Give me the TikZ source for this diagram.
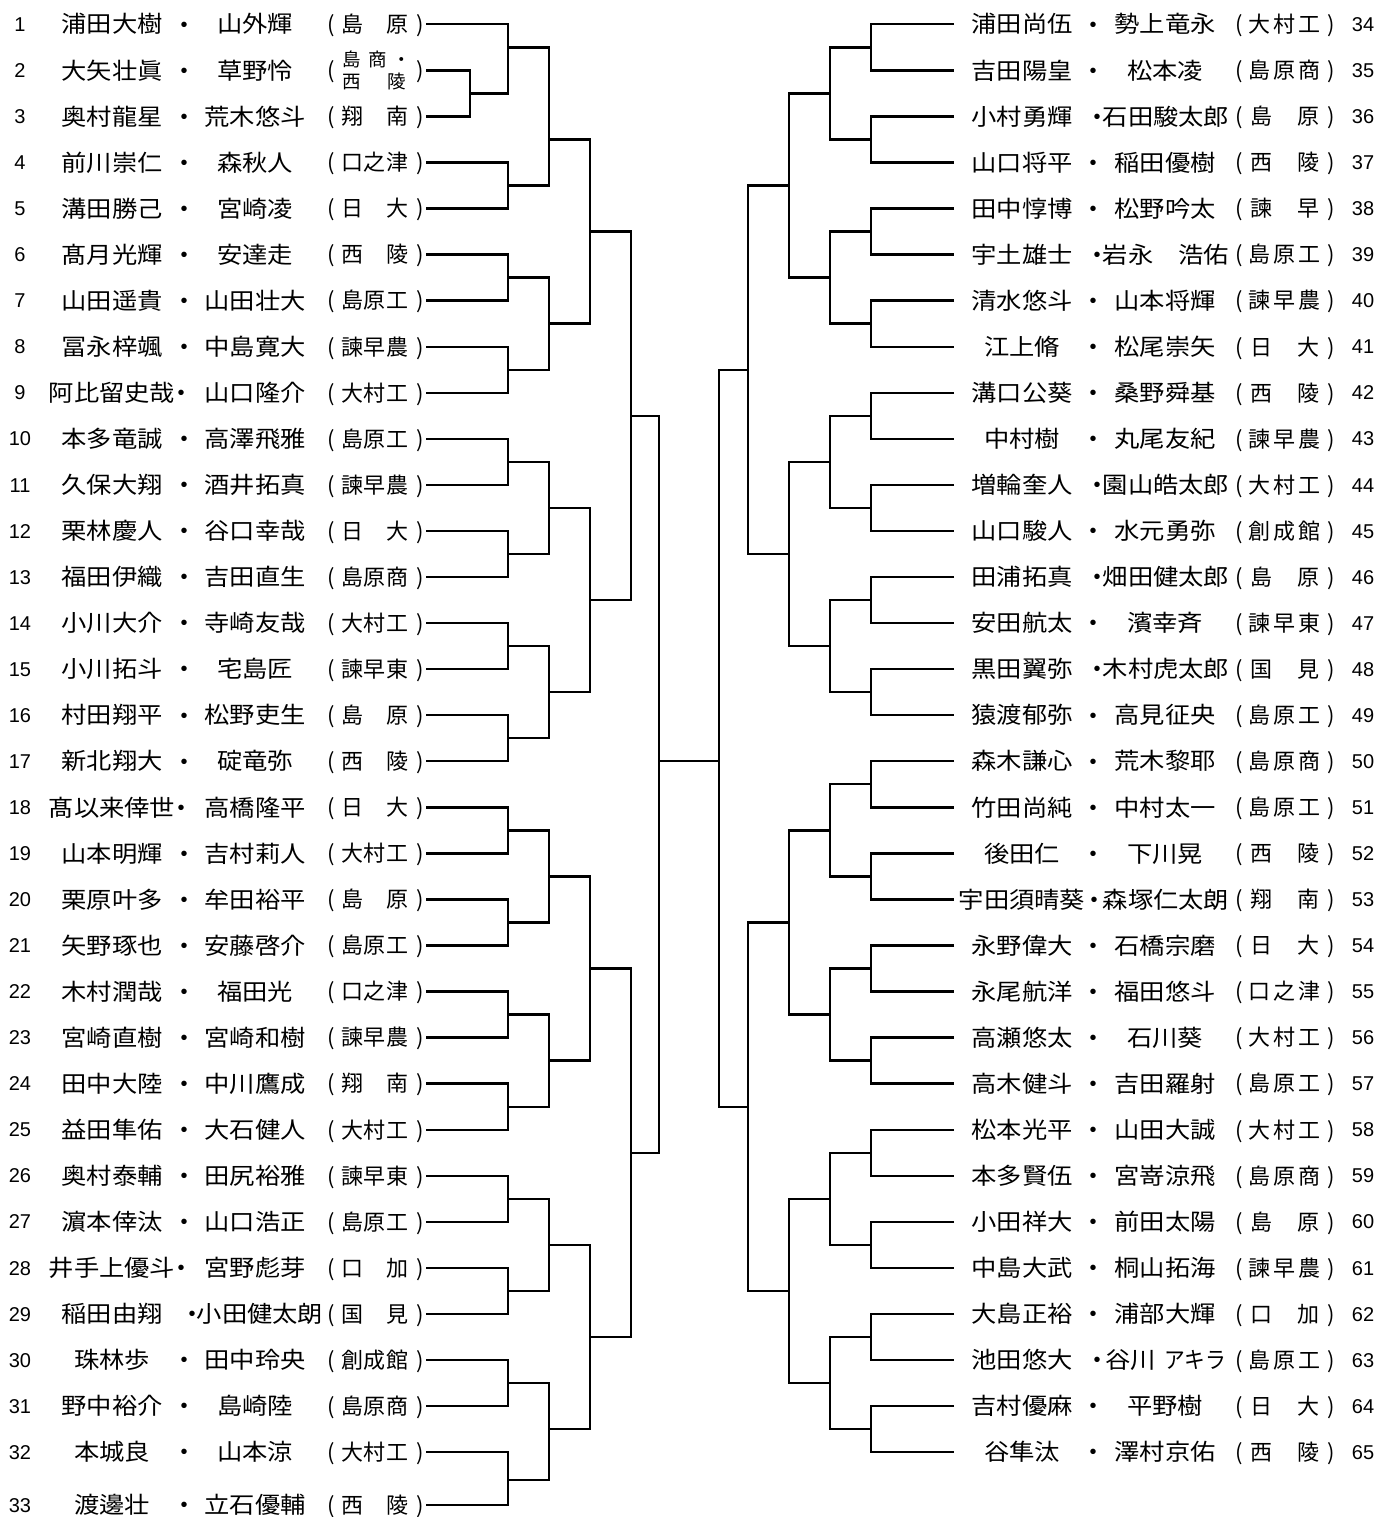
\documentclass[tikz,border=0pt]{standalone}
\usepackage{fontspec}
\newfontfamily\jp[FakeStretch=1.1]{Noto Sans CJK JP}
\newfontfamily\jpn{Noto Sans CJK JP}
\newfontfamily\numf{Liberation Sans}
\pgfmathdeclarefunction{Y}{1}{\pgfmathparse{24.3+23.03*#1}}
\tikzset{
  nm/.style={font=\jp\fontsize{23}{23}\selectfont, anchor=base, yshift=-8.7pt, inner sep=0pt, text height=19pt, text depth=2pt},
  dotn/.style={font=\numf\fontsize{20}{20}\selectfont, anchor=base, yshift=-6.8pt, inner sep=0pt},
  sc/.style={font=\jpn\fontsize{22}{22}\selectfont, anchor=base, yshift=-8.3pt, inner sep=0pt, text height=18pt, text depth=2pt},
  sctwo/.style={font=\jpn\fontsize{18.5}{18.5}\selectfont, anchor=base, yshift=-7pt, inner sep=0pt, text height=15pt, text depth=1pt},
  num/.style={font=\numf\fontsize{20}{20}\selectfont, anchor=base, yshift=-7.1pt, inner sep=0pt},
  br/.style={line width=2.4pt, black}
}
% left rows: #1 idx, #2 k, #3 name1, #4 dot x, #5 name2, #6 name2 x, #7 school
\newcommand\LR[7]{%
  \def\ii{#1}\def\kk{#2}%
  \node[num] (Ln#1) at (20,{Y(#2)}) {#1};
  \node[nm] (La#1) at (112,{Y(#2)}) {#3};
  \node[dotn] (Ld#1) at (#4,{Y(#2)}) {•};
  \node[nm] (Lb#1) at (#6,{Y(#2)}) {#5};
  \node[sc] (Lo#1) at (331,{Y(#2)}) {(};
  \node[sc] (Lc#1) at (420,{Y(#2)}) {)};
  #7
  \coordinate (Le#1) at (426,{Y(#2)});
}
\newcommand\LtwoS[2]{\node[sc] (Lsa\ii) at (352,{Y(\kk)}) {#1}; \node[sc] (Lsb\ii) at (397,{Y(\kk)}) {#2};}
\newcommand\LthrS[3]{\node[sc] (Lsa\ii) at (352,{Y(\kk)}) {#1}; \node[sc] (Lsb\ii) at (374.5,{Y(\kk)}) {#2}; \node[sc] (Lsc\ii) at (397,{Y(\kk)}) {#3};}
% right rows
\newcommand\RR[7]{%
  \def\ii{#1}\def\kk{#2}%
  \node[nm] (Ra#1) at (1022,{Y(#2)}) {#3};
  \node[dotn] (Rd#1) at (#4,{Y(#2)}) {•};
  \node[nm] (Rb#1) at (#6,{Y(#2)}) {#5};
  \node[sc] (Ro#1) at (1239,{Y(#2)}) {(};
  \node[sc] (Rc#1) at (1331,{Y(#2)}) {)};
  #7
  \node[num] (Rn#1) at (1363,{Y(#2)}) {#1};
  \coordinate (Re#1) at (954,{Y(#2)});
}
\newcommand\RtwoS[2]{\node[sc] (Rsa\ii) at (1261,{Y(\kk)}) {#1}; \node[sc] (Rsb\ii) at (1308,{Y(\kk)}) {#2};}
\newcommand\RthrS[3]{\node[sc] (Rsa\ii) at (1259,{Y(\kk)}) {#1}; \node[sc] (Rsb\ii) at (1284,{Y(\kk)}) {#2}; \node[sc] (Rsc\ii) at (1309,{Y(\kk)}) {#3};}
\begin{document}
\begin{tikzpicture}[x=1pt,y=-1pt]
\useasboundingbox (0,0) rectangle (1376,1517);
% ---------------- left entries ----------------
\LR{1}{0}{浦田大樹}{184}{山外輝}{255}{\LtwoS{島}{原}}
\LR{2}{2}{大矢壮眞}{184}{草野怜}{255}{%
  \node[sctwo] (Ls2a) at (352,{Y(2)-11}) {島};
  \node[sctwo] (Ls2b) at (378,{Y(2)-11}) {商};
  \node[sctwo] (Ls2c) at (402,{Y(2)-11}) {・};
  \node[sctwo] (Ls2d) at (352,{Y(2)+11}) {西};
  \node[sctwo] (Ls2e) at (397,{Y(2)+11}) {陵};}
\LR{3}{4}{奥村龍星}{184}{荒木悠斗}{255}{\LtwoS{翔}{南}}
\LR{4}{6}{前川崇仁}{184}{森秋人}{255}{\LthrS{口}{之}{津}}
\LR{5}{8}{溝田勝己}{184}{宮崎凌}{255}{\LtwoS{日}{大}}
\LR{6}{10}{髙月光輝}{184}{安達走}{255}{\LtwoS{西}{陵}}
\LR{7}{12}{山田遥貴}{184}{山田壮大}{255}{\LthrS{島}{原}{工}}
\LR{8}{14}{冨永梓颯}{184}{中島寛大}{255}{\LthrS{諫}{早}{農}}
\LR{9}{16}{阿比留史哉}{181}{山口隆介}{255}{\LthrS{大}{村}{工}}
\LR{10}{18}{本多竜誠}{184}{高澤飛雅}{255}{\LthrS{島}{原}{工}}
\LR{11}{20}{久保大翔}{184}{酒井拓真}{255}{\LthrS{諫}{早}{農}}
\LR{12}{22}{栗林慶人}{184}{谷口幸哉}{255}{\LtwoS{日}{大}}
\LR{13}{24}{福田伊織}{184}{吉田直生}{255}{\LthrS{島}{原}{商}}
\LR{14}{26}{小川大介}{184}{寺崎友哉}{255}{\LthrS{大}{村}{工}}
\LR{15}{28}{小川拓斗}{184}{宅島匠}{255}{\LthrS{諫}{早}{東}}
\LR{16}{30}{村田翔平}{184}{松野吏生}{255}{\LtwoS{島}{原}}
\LR{17}{32}{新北翔大}{184}{碇竜弥}{255}{\LtwoS{西}{陵}}
\LR{18}{34}{髙以来倖世}{181}{高橋隆平}{255}{\LtwoS{日}{大}}
\LR{19}{36}{山本明輝}{184}{吉村莉人}{255}{\LthrS{大}{村}{工}}
\LR{20}{38}{栗原叶多}{184}{牟田裕平}{255}{\LtwoS{島}{原}}
\LR{21}{40}{矢野琢也}{184}{安藤啓介}{255}{\LthrS{島}{原}{工}}
\LR{22}{42}{木村潤哉}{184}{福田光}{255}{\LthrS{口}{之}{津}}
\LR{23}{44}{宮崎直樹}{184}{宮崎和樹}{255}{\LthrS{諫}{早}{農}}
\LR{24}{46}{田中大陸}{184}{中川鷹成}{255}{\LtwoS{翔}{南}}
\LR{25}{48}{益田隼佑}{184}{大石健人}{255}{\LthrS{大}{村}{工}}
\LR{26}{50}{奥村泰輔}{184}{田尻裕雅}{255}{\LthrS{諫}{早}{東}}
\LR{27}{52}{濵本倖汰}{184}{山口浩正}{255}{\LthrS{島}{原}{工}}
\LR{28}{54}{井手上優斗}{181}{宮野彪芽}{255}{\LtwoS{口}{加}}
\LR{29}{56}{稲田由翔}{192}{小田健太朗}{260}{\LtwoS{国}{見}}
\LR{30}{58}{珠林歩}{184}{田中玲央}{255}{\LthrS{創}{成}{館}}
\LR{31}{60}{野中裕介}{184}{島崎陸}{255}{\LthrS{島}{原}{商}}
\LR{32}{62}{本城良}{184}{山本涼}{255}{\LthrS{大}{村}{工}}
\LR{33}{64.3}{渡邊壮}{184}{立石優輔}{255}{\LtwoS{西}{陵}}
% ---------------- right entries ----------------
\RR{34}{0}{浦田尚伍}{1093}{勢上竜永}{1165}{\RthrS{大}{村}{工}}
\RR{35}{2}{吉田陽皇}{1093}{松本凌}{1165}{\RthrS{島}{原}{商}}
\RR{36}{4}{小村勇輝}{1097}{石田駿太郎}{1166}{\RtwoS{島}{原}}
\RR{37}{6}{山口将平}{1093}{稲田優樹}{1165}{\RtwoS{西}{陵}}
\RR{38}{8}{田中惇博}{1093}{松野吟太}{1165}{\RtwoS{諫}{早}}
\RR{39}{10}{宇土雄士}{1097}{岩永　浩佑}{1166}{\RthrS{島}{原}{工}}
\RR{40}{12}{清水悠斗}{1093}{山本将輝}{1165}{\RthrS{諫}{早}{農}}
\RR{41}{14}{江上脩}{1093}{松尾崇矢}{1165}{\RtwoS{日}{大}}
\RR{42}{16}{溝口公葵}{1093}{桑野舜基}{1165}{\RtwoS{西}{陵}}
\RR{43}{18}{中村樹}{1093}{丸尾友紀}{1165}{\RthrS{諫}{早}{農}}
\RR{44}{20}{増輪奎人}{1097}{園山皓太郎}{1166}{\RthrS{大}{村}{工}}
\RR{45}{22}{山口駿人}{1093}{水元勇弥}{1165}{\RthrS{創}{成}{館}}
\RR{46}{24}{田浦拓真}{1097}{畑田健太郎}{1166}{\RtwoS{島}{原}}
\RR{47}{26}{安田航太}{1093}{濱幸斉}{1165}{\RthrS{諫}{早}{東}}
\RR{48}{28}{黒田翼弥}{1097}{木村虎太郎}{1166}{\RtwoS{国}{見}}
\RR{49}{30}{猿渡郁弥}{1093}{高見征央}{1165}{\RthrS{島}{原}{工}}
\RR{50}{32}{森木謙心}{1093}{荒木黎耶}{1165}{\RthrS{島}{原}{商}}
\RR{51}{34}{竹田尚純}{1093}{中村太一}{1165}{\RthrS{島}{原}{工}}
\RR{52}{36}{後田仁}{1093}{下川晃}{1165}{\RtwoS{西}{陵}}
\RR{53}{38}{宇田須晴葵}{1094}{森塚仁太朗}{1166}{\RtwoS{翔}{南}}
\RR{54}{40}{永野偉大}{1093}{石橋宗磨}{1165}{\RtwoS{日}{大}}
\RR{55}{42}{永尾航洋}{1093}{福田悠斗}{1165}{\RthrS{口}{之}{津}}
\RR{56}{44}{高瀬悠太}{1093}{石川葵}{1165}{\RthrS{大}{村}{工}}
\RR{57}{46}{高木健斗}{1093}{吉田羅射}{1165}{\RthrS{島}{原}{工}}
\RR{58}{48}{松本光平}{1093}{山田大誠}{1165}{\RthrS{大}{村}{工}}
\RR{59}{50}{本多賢伍}{1093}{宮嵜涼飛}{1165}{\RthrS{島}{原}{商}}
\RR{60}{52}{小田祥大}{1093}{前田太陽}{1165}{\RtwoS{島}{原}}
\RR{61}{54}{中島大武}{1093}{桐山拓海}{1165}{\RthrS{諫}{早}{農}}
\RR{62}{56}{大島正裕}{1093}{浦部大輝}{1165}{\RtwoS{口}{加}}
\RR{63}{58}{池田悠大}{1097}{谷川\kern8pt\scalebox{0.82}[1]{アキラ}}{1166}{\RthrS{島}{原}{工}}
\RR{64}{60}{吉村優麻}{1093}{平野樹}{1165}{\RtwoS{日}{大}}
\RR{65}{62}{谷隼汰}{1093}{澤村京佑}{1165}{\RtwoS{西}{陵}}
% ---------------- left bracket ----------------
\begin{scope}[br]
\draw (Le2) -| (470,{Y(3)}) |- (Le3);
\draw (Le1) -| (508,{Y(1)}) |- (470,{Y(3)});
\foreach \p in {2,...,15} {
  \pgfmathtruncatemacro\a{2*\p}\pgfmathtruncatemacro\b{2*\p+1}
  \draw (Le\a) -| (508,{Y(4*\p-1)}) |- (Le\b);
}
\draw (Le32) -| (508,{Y(63.2)}) |- (Le33);
\foreach \s/\o/\e in {1/5/7,11/13/15,19/21/23,27/29/31,35/37/39,43/45/47,51/53/55,59/61/63.2}
  \draw (508,{Y(\s)}) -| (549,{Y(\o)}) |- (508,{Y(\e)});
\foreach \s/\o/\e in {5/9/13,21/25/29,37/41/45,53/57/61}
  \draw (549,{Y(\s)}) -| (590,{Y(\o)}) |- (549,{Y(\e)});
\foreach \s/\o/\e in {9/17/25,41/49/57}
  \draw (590,{Y(\s)}) -| (631,{Y(\o)}) |- (590,{Y(\e)});
\draw (631,{Y(17)}) -| (659,{Y(32)}) |- (631,{Y(49)});
\coordinate (finalL) at (659,{Y(32)});
\coordinate (finalR) at (719,{Y(32)});
\draw (finalL) -- (finalR);
% ---------------- right bracket ----------------
\foreach \m in {0,...,15} {
  \pgfmathtruncatemacro\a{34+2*\m}\pgfmathtruncatemacro\b{35+2*\m}
  \draw (Re\a) -| (871,{Y(4*\m+1)}) |- (Re\b);
}
\foreach \m in {0,...,7}
  \draw (871,{Y(8*\m+1)}) -| (830,{Y(8*\m+3)}) |- (871,{Y(8*\m+5)});
\foreach \m in {0,...,3}
  \draw (830,{Y(16*\m+3)}) -| (789,{Y(16*\m+7)}) |- (830,{Y(16*\m+11)});
\foreach \m in {0,1}
  \draw (789,{Y(32*\m+7)}) -| (748,{Y(32*\m+15)}) |- (789,{Y(32*\m+23)});
\draw (748,{Y(15)}) -| (finalR) |- (748,{Y(47)});
\end{scope}
\end{tikzpicture}
\end{document}
